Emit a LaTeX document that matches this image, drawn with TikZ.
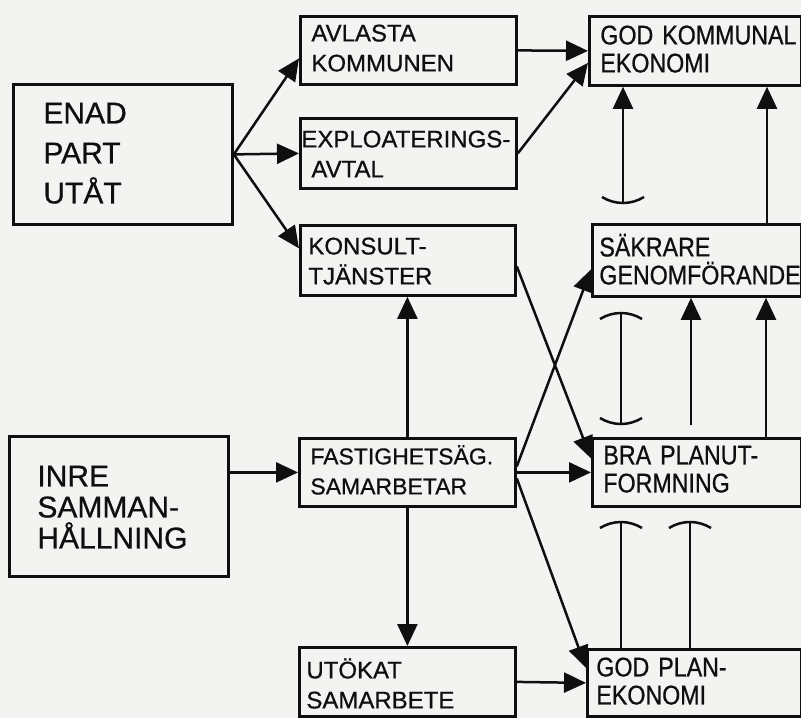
\documentclass[tikz,border=0pt]{standalone}
\usepackage{fontspec}
\setmainfont[FakeBold=0.7]{Liberation Sans}
\newfontfamily\condsans[FakeStretch=0.86,FakeBold=0.7]{Liberation Sans}
\usetikzlibrary{arrows.meta}
\definecolor{paper}{RGB}{243,243,241}
\definecolor{ink}{RGB}{15,15,15}
\tikzset{
  box/.style={draw=ink, line width=2.8pt, rectangle, anchor=north west,
    inner ysep=0pt, align=left, text=ink},
  bigtxt/.style={font=\fontsize{30}{#1}\selectfont, text height=21.5pt},
  midtxt/.style={font=\fontsize{24}{30}\selectfont, text height=17pt},
  sidetxt/.style={font=\condsans\fontsize{27}{28}\selectfont, text height=19.4pt},
  conn/.style={draw=ink, line width=2.5pt},
  arr/.style={conn, -{Triangle[length=22pt,width=20pt]}},
  cupend/.pic={\draw[conn] (-21pt,6pt) .. controls (-8pt,-2pt) and (8pt,-2pt) .. (21pt,6pt);},
  capend/.pic={\draw[conn] (-21pt,-6pt) .. controls (-8pt,2pt) and (8pt,2pt) .. (21pt,-6pt);}
}
\begin{document}
\begin{tikzpicture}[x=1pt,y=-1pt]
\fill[paper] (0,0) rectangle (801,718);
\useasboundingbox (0,0) rectangle (801,718);

% left column
\node[box, bigtxt=40, minimum width=219, minimum height=140, inner xsep=30pt,
  text width=159pt, text depth=83.5pt] (enad) at (12,83) {ENAD\\PART\\UTÅT};
\node[box, bigtxt=31, minimum width=219, minimum height=140, inner xsep=28pt,
  text width=163pt, text depth=61.5pt] (inre) at (8,435) {INRE\\SAMMAN-\\HÅLLNING};

% middle column
\node[box, midtxt, minimum width=216, minimum height=68, inner xsep=11pt,
  text width=194pt, text depth=35pt] (avl) at (299,15) {AVLASTA\\KOMMUNEN};
\node[box, midtxt, minimum width=216, minimum height=70, inner xsep=1pt,
  text width=214pt, text depth=29pt] (expl) at (299,117) {\rlap{EXPLOATERINGS-}\\\hspace*{10pt}AVTAL};
\node[box, midtxt, minimum width=215, minimum height=70, inner xsep=8pt,
  text width=199pt, text depth=29pt] (kons) at (299,224) {KONSULT-\\TJÄNSTER};
\node[box, midtxt, font=\fontsize{23}{30}\selectfont, minimum width=216, minimum height=68,
  inner xsep=11pt, text width=194pt, text depth=33pt] (fast) at (298,437) {\rlap{FASTIGHETSÄG.}\\SAMARBETAR};
\node[box, midtxt, minimum width=216, minimum height=69, inner xsep=7pt,
  text width=202pt, text depth=24pt] (utok) at (298,646) {UTÖKAT\\SAMARBETE};

% right column
\node[box, sidetxt, minimum width=212, minimum height=69, inner xsep=11pt,
  text width=190pt, text depth=32.4pt] (gke) at (588,15) {\rlap{GOD KOMMUNAL}\\EKONOMI};
\node[box, sidetxt, minimum width=209, minimum height=72, inner xsep=7pt,
  text width=195pt, text depth=27.4pt] (sak) at (591,223) {SÄKRARE\\\rlap{GENOMFÖRANDE}};
\node[box, sidetxt, minimum width=209, minimum height=68, inner xsep=11pt,
  text width=187pt, text depth=35.4pt] (bra) at (591,437) {BRA PLANUT-\\FORMNING};
\node[box, sidetxt, minimum width=214, minimum height=67, inner xsep=9pt,
  text width=196pt, text depth=32.4pt] (gpe) at (586,648) {GOD PLAN-\\EKONOMI};

% fan out of ENAD PART UTÅT
\draw[arr] (enad.east) -- ([yshift=-8pt]avl.west);
\draw[arr] (enad.east) -- (expl.west);
\draw[arr] (enad.east) -- ([yshift=12pt]kons.west);

% into GOD KOMMUNAL EKONOMI
\draw[arr] (avl.east) -- (gke.west);
\draw[arr] (expl.east) -- ([yshift=-12pt]gke.west);

% crossing links
\draw[arr] ([yshift=-6pt]kons.east) -- ([yshift=14pt]bra.west);
\draw[arr] ([yshift=6pt]fast.east) -- ([yshift=-9pt]sak.west);
\draw[arr] (fast.east) -- (bra.west);
\draw[arr] ([yshift=-6pt]fast.east) -- ([yshift=15pt]gpe.west);
\draw[arr] (utok.east) -- (gpe.west);

% around FASTIGHETSÄG. SAMARBETAR
\draw[arr] (inre.east |- fast.west) -- (fast.west);
\draw[arr] (fast.north) -- (fast.north |- kons.south);
\draw[arr] (fast.south) -- (fast.south |- utok.north);

% right column verticals
\coordinate (k1) at (623,203);
\draw[arr] (k1) -- (k1 |- gke.south);
\pic at (k1) {cupend};
\draw[arr] ([xshift=176pt]sak.north west) -- ([xshift=176pt]sak.north west |- gke.south);

\coordinate (k2) at (621,313);
\coordinate (k3) at (621,424);
\draw[conn] (k2) -- (k3);
\pic at (k2) {capend};
\pic at (k3) {cupend};
\coordinate (k4) at (691,425);
\draw[arr] (k4) -- (k4 |- sak.south);
\draw[arr] ([xshift=175pt]bra.north west) -- ([xshift=175pt]bra.north west |- sak.south);

\coordinate (k5) at (621,522);
\coordinate (k6) at (690,522);
\draw[conn] (k5 |- gpe.north) -- (k5);
\draw[conn] (k6 |- gpe.north) -- (k6);
\pic at (k5) {capend};
\pic at (k6) {capend};
\end{tikzpicture}
\end{document}
